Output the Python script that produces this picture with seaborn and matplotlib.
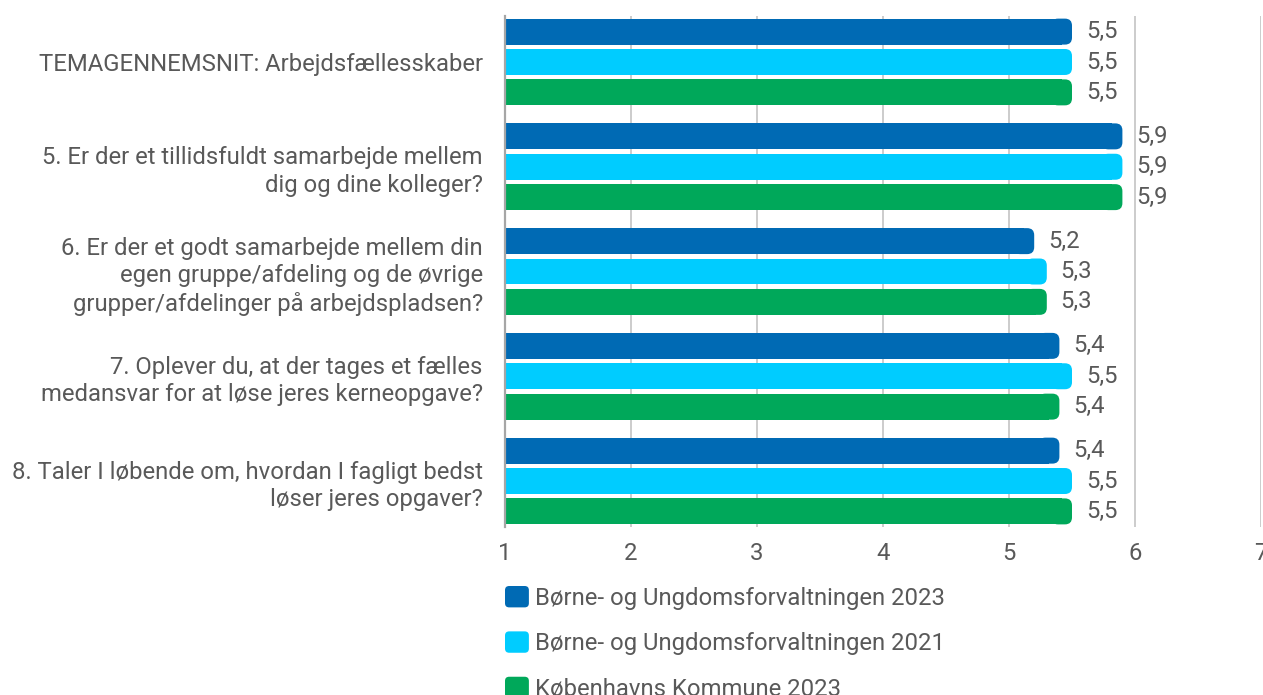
import matplotlib
matplotlib.use("Agg")
import matplotlib.pyplot as plt
import seaborn as sns
import pandas as pd
from matplotlib.patches import FancyBboxPatch, Patch
from matplotlib.legend_handler import HandlerBase

questions = [
    "TEMAGENNEMSNIT: Arbejdsfællesskaber",
    "5. Er der et tillidsfuldt samarbejde mellem\ndig og dine kolleger?",
    "6. Er der et godt samarbejde mellem din\negen gruppe/afdeling og de øvrige\ngrupper/afdelinger på arbejdspladsen?",
    "7. Oplever du, at der tages et fælles\nmedansvar for at løse jeres kerneopgave?",
    "8. Taler I løbende om, hvordan I fagligt bedst\nløser jeres opgaver?",
]
series_names = [
    "Børne- og Ungdomsforvaltningen 2023",
    "Børne- og Ungdomsforvaltningen 2021",
    "Københavns Kommune 2023",
]
buf_2023 = [5.5, 5.9, 5.2, 5.4, 5.4]
buf_2021 = [5.5, 5.9, 5.3, 5.5, 5.5]
kk_2023 = [5.5, 5.9, 5.3, 5.4, 5.5]
colors = ["#006AB4", "#00CCFF", "#00A85A"]
x_ticks = [1, 2, 3, 4, 5, 6, 7]

rows = []
for name, vals in zip(series_names, [buf_2023, buf_2021, kk_2023]):
    for q, v in zip(questions, vals):
        rows.append({"question": q, "value": v, "series": name})
df = pd.DataFrame(rows)

sns.set_style("white")
plt.rcParams["font.family"] = ["Roboto", "DejaVu Sans"]
TXT = "#595959"
FS = 17.2

fig = plt.figure(figsize=(12.63, 6.95), dpi=100)
W, H = 1263, 695
ax_left, ax_right, ax_top, ax_bot = 505, 1261, 16, 527
ax = fig.add_axes([ax_left / W, 1 - ax_bot / H, (ax_right - ax_left) / W, (ax_bot - ax_top) / H])

sns.barplot(data=df, y="question", x="value", hue="series", orient="h",
            palette=colors, saturation=1, width=0.87, gap=0.145, linewidth=0, ax=ax,
            legend=False, order=questions, hue_order=series_names)

ax.set_xlim(1, 7)
ax.set_ylim(4.439, -0.439)
ax.set_xticks(x_ticks)
ax.set_xticklabels([str(t) for t in x_ticks])
ax.xaxis.grid(True, color="#C8C8C8", linewidth=1.3)
ax.set_axisbelow(True)
for s in ["top", "right", "bottom"]:
    ax.spines[s].set_visible(False)
ax.spines["left"].set_color("#A6A6A6")
ax.spines["left"].set_linewidth(1.6)
ax.set_xlabel("")
ax.set_ylabel("")
ax.tick_params(axis="x", length=0, pad=11, labelsize=FS, labelcolor=TXT)
ax.tick_params(axis="y", length=0, pad=16, labelsize=FS, labelcolor=TXT)
for lab in ax.get_yticklabels():
    lab.set_horizontalalignment("right")
    lab.set_multialignment("right")
    lab.set_linespacing(1.25)

# rounded right ends + value labels
px_x = (ax_right - ax_left) / 6.0
px_y = (ax_bot - ax_top) / 4.878
rx = 7 / px_x
ry = 7 / px_y
bars = [p for p in ax.patches]
for p in bars:
    x0, y0, w, h = p.get_x(), p.get_y(), p.get_width(), p.get_height()
    if w <= 0:
        continue
    xend = x0 + w
    fc = p.get_facecolor()
    p.set_width(w - 1.5 * rx)
    fb = FancyBboxPatch((xend - 3 * rx, y0), 3 * rx, h,
                        boxstyle=f"round,pad=0,rounding_size={rx}",
                        mutation_aspect=ry / rx, fc=fc, ec="none", lw=0, zorder=p.get_zorder())
    ax.add_patch(fb)
    ax.annotate(f"{xend:.1f}".replace(".", ","), xy=(xend, y0 + h / 2),
                xytext=(10, 0), textcoords="offset points", va="center", ha="left",
                fontsize=FS, color=TXT)


class RoundHandler(HandlerBase):
    def create_artists(self, legend, orig_handle, xdescent, ydescent, width, height, fontsize, trans):
        p = FancyBboxPatch((-xdescent, -ydescent), width, height,
                           boxstyle="round,pad=0,rounding_size=3",
                           fc=orig_handle.get_facecolor(), ec="none", transform=trans)
        return [p]


handles = [Patch(facecolor=c, label=n) for c, n in zip(colors, series_names)]
fig.legend(handles=handles, labels=series_names, loc="upper left",
           bbox_to_anchor=(ax_left / W, 1 - 586 / H), frameon=False,
           borderpad=0, borderaxespad=0, handlelength=1.0, handleheight=1.0,
           handletextpad=0.25, labelspacing=0.9, prop={"size": FS},
           labelcolor=TXT, handler_map={Patch: RoundHandler()})

fig.savefig("out.png", dpi=100)
